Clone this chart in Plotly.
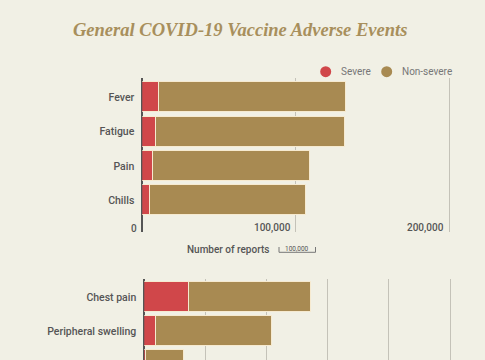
import plotly.graph_objects as go

W, H = 485, 360

# ---- data ----
top_categories = ["Fever", "Fatigue", "Pain", "Chills"]
top_severe = [10800, 9400, 7100, 5000]
top_nonsevere = [122200, 122600, 102300, 102000]

bottom_categories = ["Chest pain", "Peripheral swelling", "Swollen lymph nodes"]
bottom_severe = [7300, 2000, 300]
bottom_nonsevere = [20000, 18900, 6200]

top_ticks = [0, 100000, 200000]
top_tick_labels = ["0", "100,000", "200,000"]
bottom_ticks = [0, 10000, 20000, 30000, 40000, 50000]

series_names = ["Severe", "Non-severe"]

# ---- style ----
BG = "#f1f0e5"
RED = "#d0474a"
TAN = "#a88a52"
OUTLINE = "#f6ead0"
GRID = "#c4c2b8"
TXT = "#555555"
FONT = "Roboto"
series_colors = [RED, TAN]


def px_x(p):
    return p / W


def px_y(p):
    return 1 - p / H


fig = go.Figure()

# top chart bars
fig.add_trace(go.Bar(y=top_categories, x=top_severe, orientation="h", name=series_names[0],
                     marker=dict(color=RED, line=dict(color=OUTLINE, width=1)),
                     width=0.875, xaxis="x", yaxis="y", showlegend=False))
fig.add_trace(go.Bar(y=top_categories, x=top_nonsevere, orientation="h", name=series_names[1],
                     marker=dict(color=TAN, line=dict(color=OUTLINE, width=1)),
                     width=0.875, xaxis="x", yaxis="y", showlegend=False))
# bottom chart bars
fig.add_trace(go.Bar(y=bottom_categories, x=bottom_severe, orientation="h", name=series_names[0],
                     marker=dict(color=RED, line=dict(color=OUTLINE, width=1)),
                     width=0.88, xaxis="x2", yaxis="y2", showlegend=False))
fig.add_trace(go.Bar(y=bottom_categories, x=bottom_nonsevere, orientation="h", name=series_names[1],
                     marker=dict(color=TAN, line=dict(color=OUTLINE, width=1)),
                     width=0.88, xaxis="x2", yaxis="y2", showlegend=False))

top_dom_y = [px_y(232), px_y(78)]
bot_dom_y = [0, px_y(279.3)]

TOP_MAX = 201000
BOT_MAX = 51000

fig.update_layout(
    width=W, height=H,
    margin=dict(l=0, r=0, t=0, b=0),
    paper_bgcolor=BG, plot_bgcolor=BG,
    barmode="stack",
    bargap=0,
    showlegend=False,
    font=dict(family=FONT, color=TXT, size=10),
    xaxis=dict(domain=[px_x(142.3), px_x(142.3 + 307 * TOP_MAX / 200000)], range=[0, TOP_MAX],
               tickvals=top_ticks, showticklabels=False,
               showgrid=True, gridcolor=GRID, gridwidth=1.2,
               zeroline=True, zerolinecolor="#555555", zerolinewidth=1.6,
               showline=False, anchor="y", fixedrange=True),
    yaxis=dict(domain=top_dom_y, range=[3.927, -0.563], type="category",
               showgrid=False, zeroline=False, showline=False, anchor="x",
               tickfont=dict(family=FONT, size=10.5, color=TXT, weight=500),
               ticklabelstandoff=7, ticks=""),
    xaxis2=dict(domain=[px_x(144.3), px_x(144.3 + 305.7 * BOT_MAX / 50000)], range=[0, BOT_MAX],
                tickvals=bottom_ticks, showticklabels=False,
                showgrid=True, gridcolor=GRID, gridwidth=1.2,
                zeroline=True, zerolinecolor="#555555", zerolinewidth=1.6,
                showline=False, anchor="y2"),
    yaxis2=dict(domain=bot_dom_y, range=[1.833, -0.541], type="category",
                showgrid=False, zeroline=False, showline=False, anchor="x2",
                tickfont=dict(family=FONT, size=10.5, color=TXT, weight=500),
                ticklabelstandoff=7, ticks=""),
)

# manual legend (circle + label)
legend_x = [325.7, 386.7]
for cx, nm, col in zip(legend_x, series_names, series_colors):
    r = 5.5
    fig.add_shape(type="circle", xref="paper", yref="paper",
                  x0=px_x(cx - r), x1=px_x(cx + r), y0=px_y(71.7 + r), y1=px_y(71.7 - r),
                  fillcolor=col, line=dict(width=0))
    fig.add_annotation(text=nm, xref="paper", yref="paper", x=px_x(cx + 13), y=px_y(71.7),
                       xanchor="left", yanchor="middle", showarrow=False,
                       font=dict(family=FONT, size=10, color="#777777"))

# title
fig.add_annotation(text="<b><i>General COVID-19 Vaccine Adverse Events</i></b>",
                   xref="paper", yref="paper", x=px_x(240), y=px_y(30), xanchor="center", yanchor="middle",
                   showarrow=False, font=dict(family="Liberation Serif", size=18.5, color="#a88f5c"))

# top tick labels
for v, lab in zip(top_ticks, top_tick_labels):
    fig.add_annotation(text=lab, xref="x", yref="paper", x=v, y=px_y(228.3),
                       xanchor="right", yanchor="middle", xshift=-3, showarrow=False,
                       font=dict(family=FONT, size=10, color=TXT, weight=500))

# axis title
fig.add_annotation(text="Number of reports", xref="paper", yref="paper", x=px_x(228), y=px_y(249),
                   xanchor="center", yanchor="middle", showarrow=False,
                   font=dict(family=FONT, size=10, color=TXT, weight=500))

# scale bracket
fig.add_shape(type="path", xref="paper", yref="paper",
              path=f"M {px_x(279)} {px_y(247)} L {px_x(279)} {px_y(252.3)} L {px_x(315.5)} {px_y(252.3)} L {px_x(315.5)} {px_y(247)}",
              line=dict(color="#777777", width=1))
fig.add_annotation(text="100,000", xref="paper", yref="paper", x=px_x(297.3), y=px_y(248.5),
                   xanchor="center", yanchor="middle", showarrow=False,
                   font=dict(family=FONT, size=6.5, color=TXT))

fig.write_html("out.html")
